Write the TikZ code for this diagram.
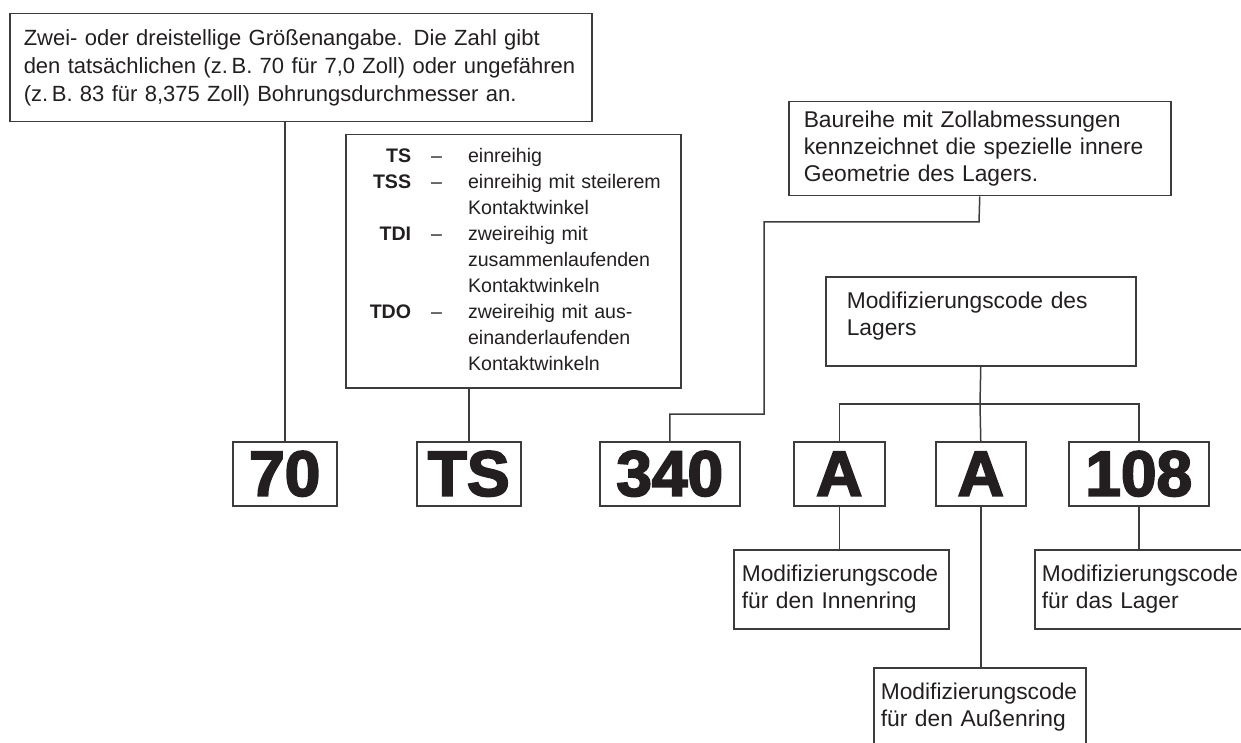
\documentclass[tikz,border=0pt]{standalone}
\usepackage{fontspec}
\setmainfont{Liberation Sans}
\newfontfamily\heavyfont{Liberation Sans}[FakeBold=3]
\usetikzlibrary{positioning}
\definecolor{ink}{HTML}{231F20}
\definecolor{lin}{HTML}{3C3C3C}
\hyphenpenalty=10000
\exhyphenpenalty=10000

\begin{document}
\begin{tikzpicture}[
  x=0.5pt, y=-0.5pt,
  note/.style={draw=lin, line width=0.75pt, anchor=north west, align=left, text=ink,
    font=\fontsize{11.4}{13.5}\selectfont},
  code/.style={draw=lin, line width=0.75pt, anchor=north west, minimum height=32pt,
    inner sep=0pt, text=ink, font=\heavyfont\bfseries\fontsize{32}{32}\selectfont},
  wire/.style={draw=lin, line width=0.75pt},
]
\useasboundingbox (0,0) rectangle (1241,743);
\clip (0,0) rectangle (1241,743);

% --- description boxes, upper row ---
\node[note, inner xsep=7pt, text width=277pt, minimum height=54pt,
      font=\fontsize{11}{14}\selectfont] (size) at (9,13)
  {Zwei- oder dreistellige Größenangabe. Die Zahl gibt\\
   den tatsächlichen (z.\,B. 70 für 7,0 Zoll) oder ungefähren\\
   (z.\,B. 83 für 8,375 Zoll) Bohrungsdurchmesser an.};
\node[note, inner xsep=12pt, text width=143.5pt, minimum height=126.5pt,
      font=\fontsize{9.8}{13}\selectfont] (types) at (345,134)
  {\begin{tabular}{@{}r@{\hspace{10pt}}c@{\hspace{13pt}}l@{}}
   \bfseries TS  & -- & einreihig\\
   \bfseries TSS & -- & einreihig mit steilerem\\
                 &    & Kontaktwinkel\\
   \bfseries TDI & -- & zweireihig mit\\
                 &    & zusammenlaufenden\\
                 &    & Kontaktwinkeln\\
   \bfseries TDO & -- & zweireihig mit aus-\\
                 &    & einanderlaufenden\\
                 &    & Kontaktwinkeln
   \end{tabular}};
\node[note, inner xsep=7.5pt, text width=176pt, minimum height=47pt] (series) at (788,101)
  {Baureihe mit Zollabmessungen\\
   kennzeichnet die spezielle innere\\
   Geometrie des Lagers.};
\node[note, inner xsep=10.5pt, text width=134pt, minimum height=44.5pt,
      text depth=21pt] (modbox) at (825,276)
  {Modifizierungscode des\\ Lagers};

% --- code boxes ---
\node[code, minimum width=52pt] (c70) at (232,441) {70};
\node[code, minimum width=52pt] (cts) at (416,441) {TS};
\node[code, minimum width=70pt] (c340) at (599,441) {340};
\node[code, minimum width=45.5pt] (a1) at (793,441) {A};
\node[code, minimum width=45pt] (a2) at (935,441) {A};
\node[code, minimum width=70pt] (c108) at (1068,441) {108};

% --- description boxes, lower row ---
\node[note, inner xsep=4pt, text width=99.5pt, minimum height=39.5pt] (inner) at (733,549)
  {Modifizierungscode\\ für den Innenring};
\node[note, inner xsep=3.5pt, text width=99pt, minimum height=39.5pt] (outer) at (873,667)
  {Modifizierungscode\\ für den Außenring};
\node[note, inner xsep=3.5pt, text width=105pt, minimum height=39.5pt] (lager) at (1034,549)
  {Modifizierungscode\\ für das Lager};

% --- connectors ---
\coordinate (k340) at (764,414);
\coordinate (kser) at (979,222);
\coordinate (bus) at (980,404);

\draw[wire] (c70.north) -- (c70.north |- size.south);
\draw[wire] (cts.north) -- (cts.north |- types.south);
\draw[wire] (c340.north) |- (k340) |- (kser) -- (series.south);
\draw[wire] (modbox.south) -- (bus) -- (a2.north);
\draw[wire] (a1.north) |- (bus) -| (c108.north);
\draw[wire] (a1.south) -- (a1.south |- inner.north);
\draw[wire] (a2.south) -- (a2.south |- outer.north);
\draw[wire] (c108.south) -- (c108.south |- lager.north);

\end{tikzpicture}
\end{document}
